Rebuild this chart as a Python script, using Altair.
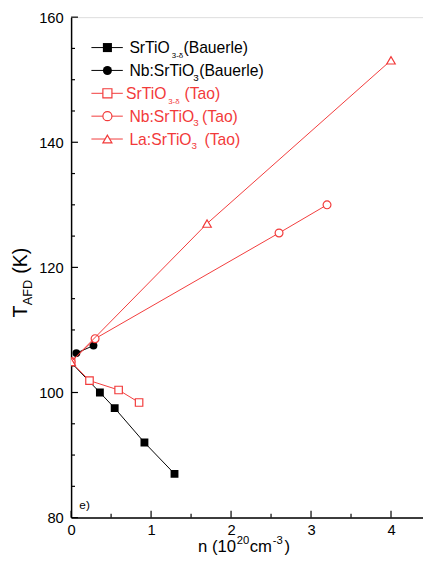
import altair as alt
import pandas as pd

# ---------------- data ----------------
bauerle_sto_n = [0.0, 0.36, 0.545, 0.917, 1.293]
bauerle_sto_t = [104.8, 100.0, 97.5, 92.0, 87.0]

bauerle_nb_n = [0.066, 0.28]
bauerle_nb_t = [106.3, 107.5]

tao_sto_n = [0.0, 0.23, 0.594, 0.85]
tao_sto_t = [104.9, 101.9, 100.4, 98.4]

tao_nb_n = [0.0, 0.30, 2.60, 3.20]
tao_nb_t = [104.9, 108.6, 125.5, 130.0]

tao_la_n = [0.0, 1.70, 4.00]
tao_la_t = [104.9, 127.0, 153.1]

x_tick_labels = [0, 1, 2, 3, 4]
y_tick_labels = [80, 100, 120, 140, 160]
x_minor = [0.5, 1.5, 2.5, 3.5]
y_minor = [85, 90, 95, 105, 110, 115, 125, 130, 135, 145, 150, 155]

# legend rows: (main text, subscript, trailing text, colour, shape, filled)
legend_rows = [
    ("SrTiO", "3-δ", "(Bauerle)", "black", "square", True),
    ("Nb:SrTiO", "3", "(Bauerle)", "black", "circle", True),
    ("SrTiO", "3-δ", "(Tao)", "red", "square", False),
    ("Nb:SrTiO", "3", "(Tao)", "red", "circle", False),
    ("La:SrTiO", "3", "(Tao)", "red", "triangle-up", False),
]

RED = "#F23A3A"
FONT = "Liberation Sans"
W, H = 358.6, 510
XMAX = 4.4

xs = alt.Scale(domain=[0, XMAX], nice=False, zero=False)
ys = alt.Scale(domain=[80, 160], nice=False, zero=False)

XAX = alt.Axis(values=x_tick_labels, title=None, grid=False, tickSize=0,
               labelPadding=5, labelFontSize=15, labelFont=FONT,
               labelColor="black", domainColor="black", domainWidth=1.5,
               format="d", labelFlush=False)
YAX = alt.Axis(values=y_tick_labels, title=None, grid=False, tickSize=0,
               labelPadding=8, labelFontSize=15, labelFont=FONT,
               labelColor="black", domainColor="black", domainWidth=1.5,
               format="d", labelFlush=False)

def X(field):
    return alt.X(field, scale=xs, axis=XAX)

def Y(field):
    return alt.Y(field, scale=ys, axis=YAX)

def series(n, t, color, shape, filled, msize):
    df = pd.DataFrame({"n": n, "t": t})
    base = alt.Chart(df).encode(x=X("n:Q"), y=Y("t:Q"))
    line = base.mark_line(color=color, strokeWidth=1, clip=True)
    if filled:
        pts = base.mark_point(shape=shape, filled=True, color=color, size=msize,
                              opacity=1, clip=True)
    else:
        pts = base.mark_point(shape=shape, filled=True, fill="white", stroke=color,
                              strokeWidth=1.2, size=msize, opacity=1, clip=True)
    return [line, pts]

layers = []

axis_df = pd.DataFrame({"n": [0.0], "t": [80.0]})
layers.append(alt.Chart(axis_df).mark_point(opacity=0).encode(x=X("n:Q"), y=Y("t:Q")))

# inward ticks
ymaj = pd.DataFrame({"t": y_tick_labels})
ymin = pd.DataFrame({"t": y_minor})
xmaj = pd.DataFrame({"n": x_tick_labels})
xmin = pd.DataFrame({"n": x_minor})
layers.append(alt.Chart(ymaj).mark_rule(color="black", strokeWidth=1.2).encode(
    y=Y("t:Q"), x=alt.value(0), x2=alt.value(7)))
layers.append(alt.Chart(ymin).mark_rule(color="black", strokeWidth=1.2).encode(
    y=Y("t:Q"), x=alt.value(0), x2=alt.value(4)))
layers.append(alt.Chart(xmaj).mark_rule(color="black", strokeWidth=1.2).encode(
    x=X("n:Q"), y=alt.value(H), y2=alt.value(H - 7)))
layers.append(alt.Chart(xmin).mark_rule(color="black", strokeWidth=1.2).encode(
    x=X("n:Q"), y=alt.value(H), y2=alt.value(H - 4)))

# data series
layers += series(bauerle_sto_n, bauerle_sto_t, "black", "square", True, 64)
layers += series(bauerle_nb_n, bauerle_nb_t, "black", "circle", True, 64)
layers += series(tao_sto_n, tao_sto_t, RED, "square", False, 58)
layers += series(tao_nb_n, tao_nb_t, RED, "circle", False, 64)
layers += series(tao_la_n, tao_la_t, RED, "triangle-up", False, 75)

def txt(s, x, y, size, color="black", angle=0, align="left", baseline="alphabetic"):
    kw = dict(text=s, align=align, baseline=baseline, fontSize=size, font=FONT,
              color=color)
    if angle:
        kw["angle"] = angle
    return alt.Chart(axis_df).mark_text(**kw).encode(x=alt.value(x), y=alt.value(y))

# legend
row_y = [31, 54.3, 77.6, 100.9, 124.2]
main_x = [59.4, 59.4, 56.0, 59.4, 59.4]
sub_x = [102.6, 124.4, 99.0, 124.4, 122.8]
sub_size = [8, 10, 8, 10, 10]
tail_x = [114.5, 130.5, 115.5, 133.5, 136.0]
for i, (m, sub, tail, col, shape, filled) in enumerate(legend_rows):
    c = "black" if col == "black" else RED
    yy = row_y[i]
    layers.append(alt.Chart(axis_df).mark_rule(color=c, strokeWidth=1).encode(
        x=alt.value(20.7), x2=alt.value(52.7), y=alt.value(yy)))
    if filled:
        mk = alt.Chart(axis_df).mark_point(shape=shape, filled=True, color=c, size=85,
                                           opacity=1)
    else:
        mk = alt.Chart(axis_df).mark_point(shape=shape, filled=True, fill="white",
                                           stroke=c, strokeWidth=1.2, size=85, opacity=1)
    layers.append(mk.encode(x=alt.value(37), y=alt.value(yy)))
    layers.append(txt(m, main_x[i], yy + 5.8, 16, c))
    layers.append(txt(sub, sub_x[i], yy + 10.5, sub_size[i], c))
    layers.append(txt(tail, tail_x[i], yy + 5.8, 16, c))

# panel label
layers.append(txt("e)", 8.4, 501, 12))

# x-axis title: n (10^20 cm^-3)
layers.append(txt("n (10", 129.4, 545.5, 17))
layers.append(txt("20", 168.8, 536.5, 11.5))
layers.append(txt("cm", 182.0, 545.5, 17))
layers.append(txt("-3", 205.5, 536.5, 11.5))
layers.append(txt(")", 217.5, 545.5, 17))

# y-axis title: T_AFD (K), rotated
TY = 306
layers.append(txt("T", -44.5, TY, 20, angle=270))
layers.append(txt("AFD", -39.5, TY - 12.4, 13, angle=270))
layers.append(txt("(K)", -44.5, TY - 12.4 - 26.5 - 5.5, 20, angle=270))

chart = alt.layer(*layers).properties(
    width=W, height=H,
    autosize=alt.AutoSizeParams(type="none"),
    padding={"left": 64.3, "top": 4, "right": 0, "bottom": 45},
).configure_view(stroke=None).configure(background="white")

chart.save("out.html", embed_options={"renderer": "svg", "actions": False})
